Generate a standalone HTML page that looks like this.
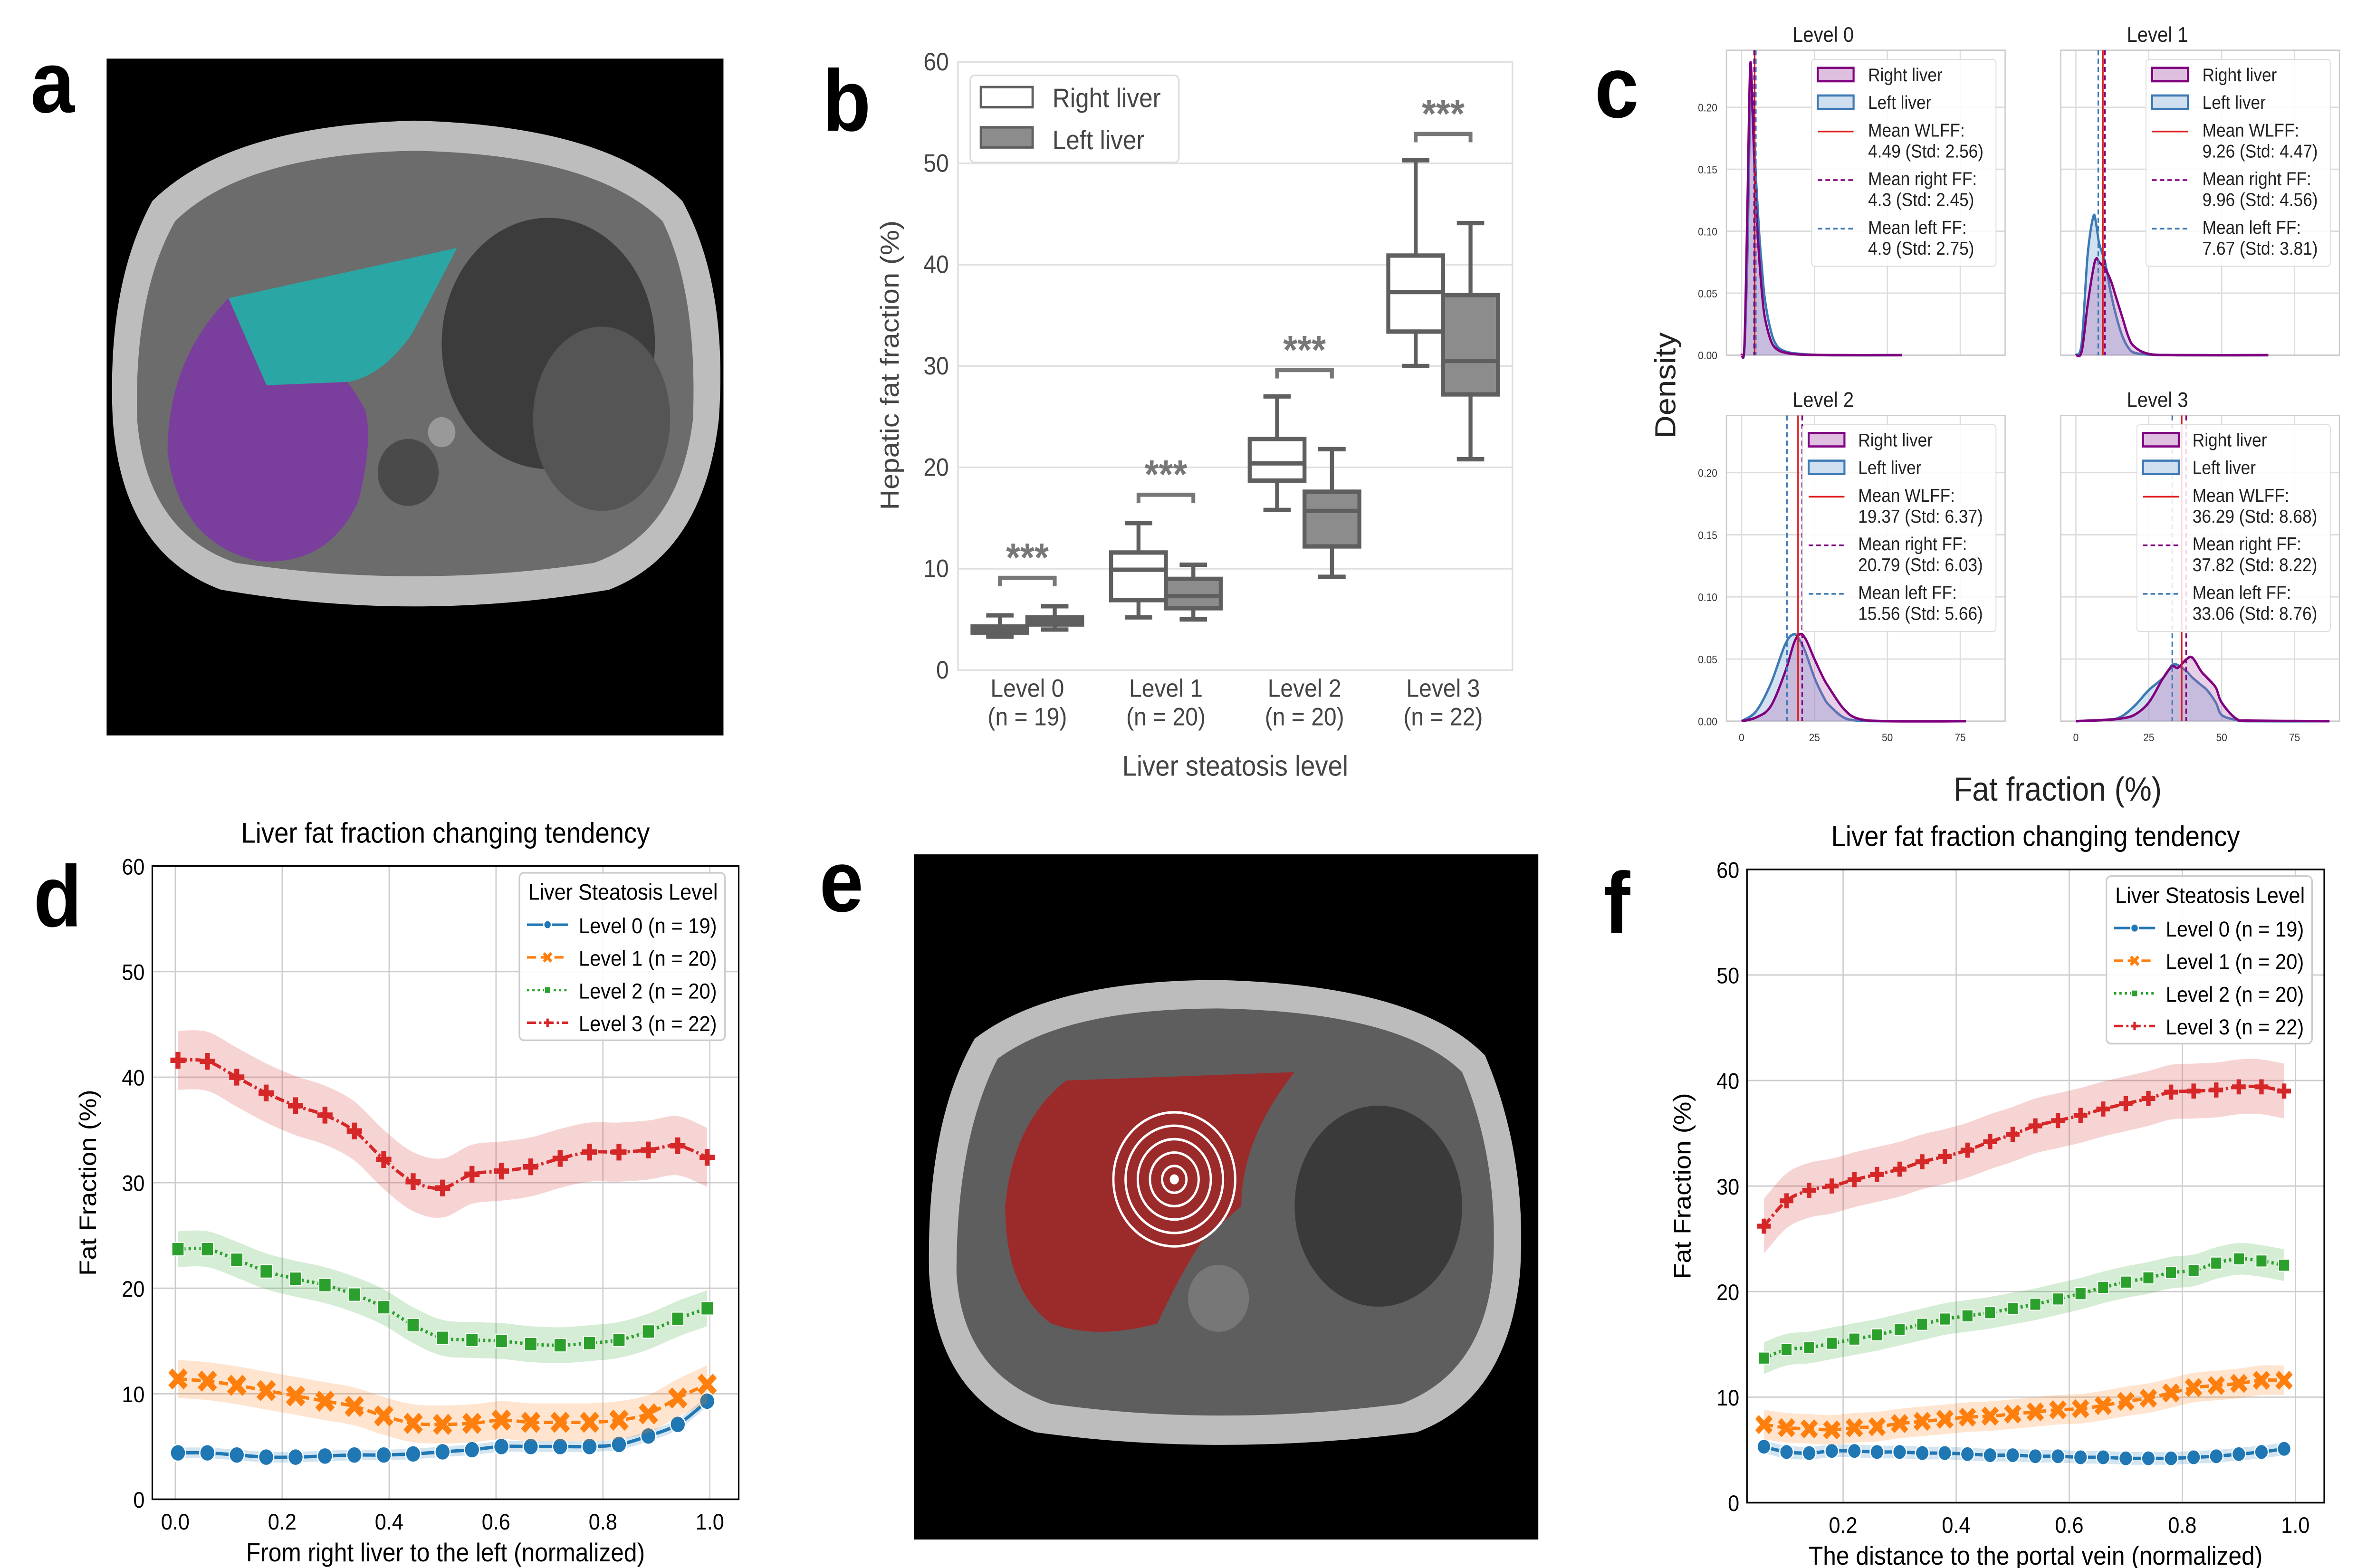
<!DOCTYPE html>
<html><head><meta charset="utf-8">
<style>
html,body{margin:0;padding:0;background:#fff;width:100%;height:100%;overflow:hidden;}
svg{display:block;width:100vw;height:100vh;font-family:"Liberation Sans",Arial,sans-serif;}
</style></head>
<body>
<svg id="fig" viewBox="0 0 1560 936" preserveAspectRatio="none" xmlns="http://www.w3.org/2000/svg">
<g font-weight="bold" font-size="52" fill="#000">
<text x="20" y="67">a</text>
<text x="540" y="78">b</text>
<text x="1047" y="70">c</text>
<text x="22" y="553">d</text>
<text x="538" y="544">e</text>
<text x="1053" y="557">f</text>
</g>
<g>
<rect x="70" y="35" width="405" height="404" fill="#000"/>
<path d="M100,120 Q150,75 272,72 Q400,75 448,120 Q478,170 472,250 Q462,330 400,352 Q272,372 145,352 Q80,330 74,250 Q70,170 100,120Z" fill="#bdbdbd"/>
<path d="M115,132 Q160,92 272,90 Q390,92 435,132 Q458,175 455,250 Q446,318 390,336 Q272,352 155,336 Q96,318 90,250 Q88,175 115,132Z" fill="#6c6c6c"/>
<ellipse cx="360" cy="205" rx="70" ry="75" fill="#3c3c3c"/>
<ellipse cx="395" cy="250" rx="45" ry="55" fill="#555"/>
<circle cx="268" cy="282" r="20" fill="#4a4a4a"/>
<circle cx="290" cy="258" r="9" fill="#999"/>
<path d="M150,178 L300,148 Q285,175 270,200 Q250,225 228,228 L175,230 Z" fill="#2aa6a4"/>
<path d="M150,178 Q110,215 110,270 Q118,325 170,335 Q215,338 235,300 Q245,265 240,245 Q232,232 228,228 L175,230 Z" fill="#7a3f9c"/>
</g>
<g>
<rect x="600" y="510" width="410" height="409" fill="#000"/>
<path d="M640,620 Q690,585 800,585 Q930,588 975,630 Q1003,690 998,760 Q990,835 930,855 Q800,870 680,855 Q615,835 610,760 Q608,670 640,620Z" fill="#bcbcbc"/>
<path d="M655,632 Q700,602 800,602 Q920,604 960,640 Q985,695 980,760 Q973,820 920,838 Q800,852 690,838 Q632,820 628,760 Q628,680 655,632Z" fill="#5e5e5e"/>
<ellipse cx="905" cy="720" rx="55" ry="60" fill="#3a3a3a"/>
<ellipse cx="800" cy="775" rx="20" ry="20" fill="#777"/>
<path d="M700,645 L850,640 Q815,680 815,720 L790,740 Q775,760 760,790 Q720,800 690,790 Q660,770 660,720 Q665,670 700,645Z" fill="#9b2b2b"/>
<g fill="none" stroke="#fff" stroke-width="1.5">
<circle cx="771" cy="704" r="8"/><circle cx="771" cy="704" r="16"/><circle cx="771" cy="704" r="24"/><circle cx="771" cy="704" r="32"/><circle cx="771" cy="704" r="40"/>
</g>
<circle cx="771" cy="704" r="3" fill="#fff"/>
</g>
<g id="pb"></g><g id="pc"></g><g id="pd"></g><g id="pf"></g>
</svg>
<script>
const NS="http://www.w3.org/2000/svg";
function el(p,t,a,txt){const e=document.createElementNS(NS,t);for(const k in a)e.setAttribute(k,a[k]);if(txt!==undefined)e.textContent=txt;p.appendChild(e);return e;}
function smooth(pts){if(pts.length<2)return "";let d="M"+pts[0][0]+","+pts[0][1];for(let i=0;i<pts.length-1;i++){const p0=pts[Math.max(i-1,0)],p1=pts[i],p2=pts[i+1],p3=pts[Math.min(i+2,pts.length-1)];const c1=[p1[0]+(p2[0]-p0[0])/6,p1[1]+(p2[1]-p0[1])/6],c2=[p2[0]-(p3[0]-p1[0])/6,p2[1]-(p3[1]-p1[1])/6];d+=" C"+c1[0]+","+c1[1]+" "+c2[0]+","+c2[1]+" "+p2[0]+","+p2[1];}return d;}

const bCategories=["Level  0","Level  1","Level  2","Level  3"];
const bCounts=["(n = 19)","(n = 20)","(n = 20)","(n = 22)"];
const bRight=[[3.3,3.7,4.1,4.3,5.4],[5.2,6.9,9.9,11.6,14.5],[15.8,18.7,20.4,22.8,27.0],[30.0,33.4,37.3,40.9,50.3]];
const bLeft=[[4.0,4.5,4.9,5.2,6.3],[5.0,6.1,7.3,9.0,10.4],[9.2,12.2,15.7,17.6,21.8],[20.8,27.2,30.5,37.0,44.1]];
const bBracket=[9.1,17.3,29.6,52.9];
const bTicks=[0,10,20,30,40,50,60];
(function(){
const g=document.getElementById("pb");
const L=629,R=993,T=37,B=400;
const ys=v=>B-(v/60)*(B-T);const xs=i=>L+(i+0.5)*(R-L)/4;
el(g,"rect",{x:L,y:T,width:R-L,height:B-T,fill:"#fff",stroke:"#ddd","stroke-width":1});
bTicks.forEach(t=>{el(g,"line",{x1:L,x2:R,y1:ys(t),y2:ys(t),stroke:"#e0e0e0","stroke-width":1});
 const tx=el(g,"text",{x:L-6,y:ys(t)+5,"text-anchor":"end","font-size":15,fill:"#444"},t);
 
 });
const bw=36;
function box(i,d,off,fill,name){const cx=xs(i)+off;const gg=el(g,"g",{});
 
 
 const st={stroke:"#5f5f5f","stroke-width":2.6,fill:"none"};
 el(gg,"line",Object.assign({x1:cx,x2:cx,y1:ys(d[0]),y2:ys(d[1])},st));
 el(gg,"line",Object.assign({x1:cx,x2:cx,y1:ys(d[3]),y2:ys(d[4])},st));
 el(gg,"line",Object.assign({x1:cx-bw/4,x2:cx+bw/4,y1:ys(d[0]),y2:ys(d[0])},st));
 el(gg,"line",Object.assign({x1:cx-bw/4,x2:cx+bw/4,y1:ys(d[4]),y2:ys(d[4])},st));
 el(gg,"rect",{x:cx-bw/2,y:ys(d[3]),width:bw,height:ys(d[1])-ys(d[3]),fill:fill,stroke:"#5f5f5f","stroke-width":2.6});
 el(gg,"line",Object.assign({x1:cx-bw/2,x2:cx+bw/2,y1:ys(d[2]),y2:ys(d[2])},st));}
for(let i=0;i<4;i++){box(i,bRight[i],-bw/2,"#fff","box-right-level-"+i);box(i,bLeft[i],bw/2,"#8c8c8c","box-left-level-"+i);
 const y=ys(bBracket[i]);const br=el(g,"path",{d:`M${xs(i)-18},${y+5} V${y} H${xs(i)+18} V${y+5}`,fill:"none",stroke:"#777","stroke-width":2.5});
 
 
 const s=el(g,"text",{x:xs(i),y:y-4,"text-anchor":"middle","font-size":24,"font-weight":"bold",fill:"#777"},"***");
 
 
 const c=el(g,"text",{x:xs(i),y:416,"text-anchor":"middle","font-size":15,fill:"#444"},bCategories[i]);
 
 
 const n=el(g,"text",{x:xs(i),y:433,"text-anchor":"middle","font-size":15,fill:"#444"},bCounts[i]);
 
 }
const xl=el(g,"text",{x:811,y:463,"text-anchor":"middle","font-size":17,fill:"#444"},"Liver steatosis level");

const yl=el(g,"text",{x:590,y:218,"text-anchor":"middle","font-size":17,fill:"#444",transform:"rotate(-90 590 218)"},"Hepatic fat fraction (%)");

const lg=el(g,"g",{});
el(lg,"rect",{x:637,y:45,width:137,height:52,rx:3,fill:"#fff",stroke:"#ddd"});
el(lg,"rect",{x:644,y:52,width:34,height:12,fill:"#fff",stroke:"#5f5f5f","stroke-width":1.5});
el(lg,"rect",{x:644,y:76,width:34,height:12,fill:"#8c8c8c",stroke:"#5f5f5f","stroke-width":1.5});
el(lg,"text",{x:691,y:64,"font-size":16,fill:"#444"},"Right liver");
el(lg,"text",{x:691,y:89,"font-size":16,fill:"#444"},"Left liver");
})();

const cTitles=["Level  0","Level  1","Level  2","Level  3"];
const cX0=[0,1,2,3,4,5,6,7,8,10,12,15,20,30,55];
const cRight0=[0,0.01,0.12,0.235,0.18,0.12,0.08,0.05,0.03,0.012,0.005,0.002,0.0005,0,0];
const cLeft0=[0,0.005,0.08,0.20,0.19,0.14,0.10,0.07,0.045,0.02,0.008,0.003,0.001,0,0];
const cX1=[0,2,4,6,7,8,10,12,14,16,18,20,25,35,66];
const cRight1=[0,0.003,0.04,0.07,0.078,0.075,0.07,0.06,0.045,0.03,0.015,0.007,0.001,0,0];
const cLeft1=[0,0.01,0.08,0.112,0.105,0.09,0.075,0.05,0.03,0.015,0.006,0.002,0.0005,0,0];
const cX2=[0,5,10,15,18,20,22,25,28,30,35,40,50,77];
const cRight2=[0,0.003,0.012,0.04,0.063,0.07,0.066,0.05,0.035,0.027,0.01,0.002,0,0];
const cLeft2=[0,0.008,0.03,0.062,0.07,0.065,0.055,0.035,0.02,0.013,0.003,0.0005,0,0];
const cX3=[0,10,15,20,25,30,33,35,38,40,43,45,48,50,55,60,87];
const cRight3=[0,0.001,0.002,0.005,0.015,0.035,0.044,0.043,0.05,0.051,0.04,0.035,0.027,0.015,0.002,0.0005,0];
const cLeft3=[0,0.001,0.003,0.012,0.025,0.035,0.045,0.045,0.04,0.035,0.029,0.025,0.015,0.005,0.001,0,0];
const cMeanW=[4.49,9.26,19.37,36.29];const cStdW=["2.56","4.47","6.37","8.68"];
const cMeanR=[4.3,9.96,20.79,37.82];const cStdR=["2.45","4.56","6.03","8.22"];
const cMeanL=[4.9,7.67,15.56,33.06];const cStdL=["2.75","3.81","5.66","8.76"];
const cYTicks=[0,0.05,0.10,0.15,0.20];const cXTicks=[0,25,50,75];
(function(){
const g=document.getElementById("pc");
const xsArr=[cX0,cX1,cX2,cX3],rArr=[cRight0,cRight1,cRight2,cRight3],lArr=[cLeft0,cLeft1,cLeft2,cLeft3];
const pos=[[1133.5,30,212],[1353,30,212],[1133.5,248,430.5],[1353,248,430.5]];
const W=183,XMIN=-5.2,XMAX=90.4,YMAX=0.246;
for(let k=0;k<4;k++){
 const [L,T,B]=pos[k];const sg=el(g,"g",{});
 
 
 const xs=v=>L+(v-XMIN)/(XMAX-XMIN)*W;const ys=v=>B-v/YMAX*(B-T);
 el(sg,"rect",{x:L,y:T,width:W,height:B-T,fill:"#fff"});
 cYTicks.forEach(t=>{el(sg,"line",{x1:L,x2:L+W,y1:ys(t),y2:ys(t),stroke:"#ddd","stroke-width":0.8});
   if(k%2==0){const tt=el(sg,"text",{x:L-6,y:ys(t)+2.5,"text-anchor":"end","font-size":6.5,fill:"#333"},t.toFixed(2));}});
 cXTicks.forEach(t=>{el(sg,"line",{x1:xs(t),x2:xs(t),y1:T,y2:B,stroke:"#ddd","stroke-width":0.8});
   if(k>=2){const tt=el(sg,"text",{x:xs(t),y:B+12,"text-anchor":"middle","font-size":6.5,fill:"#333"},t);}});
 el(sg,"rect",{x:L,y:T,width:W,height:B-T,fill:"none",stroke:"#ccc","stroke-width":0.8});
 const ttl=el(sg,"text",{x:L+W/2-28,y:T-5,"text-anchor":"middle","font-size":12.5,fill:"#222"},cTitles[k]);
 
 function dens(xa,ya,fill,stroke,name){const pts=xa.map((x,i)=>[xs(x),ys(ya[i])]);const d=smooth(pts);
  const a=el(sg,"path",{d:d+` L${pts[pts.length-1][0]},${B} L${pts[0][0]},${B} Z`,fill:fill,"fill-opacity":0.3,stroke:"none"});
  
  const l=el(sg,"path",{d:d,fill:"none",stroke:stroke,"stroke-width":1.5});
  }
 dens(xsArr[k],lArr[k],"#6a9fd0","#3d7ab5","left-liver-density");
 dens(xsArr[k],rArr[k],"#b064b0","#800080","right-liver-density");
 const mL=el(sg,"line",{x1:xs(cMeanL[k]),x2:xs(cMeanL[k]),y1:T,y2:B,stroke:"#3d7ab5","stroke-width":1,"stroke-dasharray":"3,2"});
 
 const mW=el(sg,"line",{x1:xs(cMeanW[k]),x2:xs(cMeanW[k]),y1:T,y2:B,stroke:"#e01818","stroke-width":1});
 
 const mR=el(sg,"line",{x1:xs(cMeanR[k]),x2:xs(cMeanR[k]),y1:T,y2:B,stroke:"#800080","stroke-width":1,"stroke-dasharray":"3,2"});
 
 const lx=k<2?L+56:L+50, tx=k<2?L+93:L+86.5, ly=T+5.5;
 const lg=el(sg,"g",{});
 el(lg,"rect",{x:lx,y:ly,width:L+W-6-lx,height:123.5,rx:2,fill:"#fff","fill-opacity":0.85,stroke:"#ddd","stroke-width":0.6});
 const px=lx+4;
 el(lg,"rect",{x:px,y:ly+5,width:23.5,height:8,fill:"#dfbfdf",stroke:"#800080","stroke-width":1.3});
 el(lg,"rect",{x:px,y:ly+21.5,width:23.5,height:8,fill:"#cfdff0",stroke:"#3d7ab5","stroke-width":1.3});
 el(lg,"line",{x1:px,x2:px+23.5,y1:ly+43,y2:ly+43,stroke:"#e01818","stroke-width":1});
 el(lg,"line",{x1:px,x2:px+23.5,y1:ly+72,y2:ly+72,stroke:"#800080","stroke-width":1,"stroke-dasharray":"3,2"});
 el(lg,"line",{x1:px,x2:px+23.5,y1:ly+101,y2:ly+101,stroke:"#3d7ab5","stroke-width":1,"stroke-dasharray":"3,2"});
 const lines=[["Right liver",13],["Left liver",29.5],["Mean WLFF:",46],[cMeanW[k]+" (Std: "+cStdW[k]+")",58.5],["Mean right FF:",75],[cMeanR[k]+" (Std: "+cStdR[k]+")",87.5],["Mean left FF:",104],[cMeanL[k]+" (Std: "+cStdL[k]+")",116.5]];
 lines.forEach(([t,dy])=>el(lg,"text",{x:tx,y:ly+dy,"font-size":11,fill:"#222"},t));
}
const dl=el(g,"text",{x:1100,y:230,"text-anchor":"middle","font-size":19,fill:"#222",transform:"rotate(-90 1100 230)"},"Density");

const fl=el(g,"text",{x:1351,y:478,"text-anchor":"middle","font-size":20,fill:"#222"},"Fat fraction (%)");

})();

const dX=[0.005,0.06,0.115,0.17,0.225,0.28,0.335,0.39,0.445,0.5,0.555,0.61,0.665,0.72,0.775,0.83,0.885,0.94,0.995];
const dL0=[4.4,4.4,4.2,4.0,4.0,4.1,4.2,4.2,4.3,4.5,4.7,5.0,5.0,5.0,5.0,5.2,6.0,7.1,9.3];
const dL1=[11.4,11.2,10.8,10.3,9.8,9.3,8.8,7.9,7.2,7.1,7.2,7.5,7.3,7.3,7.3,7.5,8.1,9.6,10.9];
const dL2=[23.7,23.7,22.7,21.6,20.9,20.3,19.4,18.2,16.5,15.3,15.1,15.0,14.7,14.6,14.8,15.1,15.9,17.1,18.1];
const dL3=[41.6,41.5,40.0,38.5,37.3,36.4,34.9,32.2,30.1,29.5,30.8,31.1,31.5,32.3,32.9,32.9,33.1,33.5,32.4];
const dBand=[0.5,1.8,1.7,2.8];
const fX=[0.06,0.10,0.14,0.18,0.22,0.26,0.30,0.34,0.38,0.42,0.46,0.50,0.54,0.58,0.62,0.66,0.70,0.74,0.78,0.82,0.86,0.90,0.94,0.98];
const fL0=[5.3,4.8,4.7,4.9,4.9,4.8,4.8,4.7,4.7,4.6,4.5,4.5,4.4,4.4,4.3,4.3,4.2,4.2,4.2,4.3,4.4,4.6,4.8,5.1];
const fL1=[7.4,7.1,7.0,6.9,7.1,7.2,7.5,7.7,7.9,8.1,8.2,8.4,8.6,8.8,8.9,9.2,9.6,9.9,10.4,10.9,11.1,11.3,11.6,11.6];
const fL2=[13.7,14.5,14.7,15.1,15.5,15.9,16.4,16.9,17.4,17.7,18.0,18.4,18.8,19.3,19.8,20.4,20.9,21.3,21.8,22.0,22.7,23.1,22.9,22.5];
const fL3=[26.2,28.6,29.6,30.0,30.6,31.1,31.6,32.3,32.8,33.4,34.2,34.9,35.7,36.2,36.7,37.3,37.8,38.3,38.9,39.0,39.1,39.4,39.4,39.0];
const fBand=[0.6,1.4,1.5,2.6];
const lineYTicks=[0,10,20,30,40,50,60];
const dXTicks=[0,0.2,0.4,0.6,0.8,1.0];const fXTicks=[0.2,0.4,0.6,0.8,1.0];
const legendLabels=["Level 0 (n = 19)","Level 1 (n = 20)","Level 2 (n = 20)","Level 3 (n = 22)"];
const COLORS=["#1f77b4","#ff7f0e","#2ca02c","#d62728"];
const DASH=["none","6,3","1.5,2","6,2,1.5,2"];
function marker(p,k,x,y,s){
 if(k==0)return el(p,"circle",{cx:x,cy:y,r:s,fill:COLORS[0],stroke:"#fff","stroke-width":0.8});
 if(k==1)return el(p,"path",{d:`M${x-s},${y-s}L${x+s},${y+s}M${x-s},${y+s}L${x+s},${y-s}`,stroke:COLORS[1],"stroke-width":s*0.75,fill:"none"});
 if(k==2)return el(p,"rect",{x:x-s*0.8,y:y-s*0.8,width:s*1.6,height:s*1.6,fill:COLORS[2],stroke:"#fff","stroke-width":0.6});
 return el(p,"path",{d:`M${x-s},${y}L${x+s},${y}M${x},${y-s}L${x},${y+s}`,stroke:COLORS[3],"stroke-width":s*0.65,fill:"none"});}
function lineChart(gid,cfg){
 const g=document.getElementById(gid);const {L,R,T,B,xmin,xmax,X,series,band,xt,title,xlabel,ms,leg}=cfg;
 const xs=v=>L+(v-xmin)/(xmax-xmin)*(R-L);const ys=v=>B-v/60*(B-T);
 lineYTicks.forEach(t=>{el(g,"line",{x1:L,x2:R,y1:ys(t),y2:ys(t),stroke:"#ccc","stroke-width":0.8});
  const tt=el(g,"text",{x:L-5,y:ys(t)+5,"text-anchor":"end","font-size":13.5,fill:"#000"},t);});
 xt.forEach(t=>{el(g,"line",{x1:xs(t),x2:xs(t),y1:T,y2:B,stroke:"#ccc","stroke-width":0.8});
  const tt=el(g,"text",{x:xs(t),y:B+18,"text-anchor":"middle","font-size":13.5,fill:"#000"},t.toFixed(1));});
 series.forEach((s,k)=>{
  const up=X.map((x,i)=>[xs(x),ys(s[i]+band[k])]),lo=X.map((x,i)=>[xs(x),ys(s[i]-band[k])]).reverse();
  const b=el(g,"path",{d:smooth(up)+" L"+lo[0][0]+","+lo[0][1]+smooth(lo).replace(/^M[^C]*/," ")+"Z",fill:COLORS[k],"fill-opacity":0.2,stroke:"none"});
  
  const ln=el(g,"path",{d:smooth(X.map((x,i)=>[xs(x),ys(s[i])])),fill:"none",stroke:COLORS[k],"stroke-width":2,"stroke-dasharray":DASH[k]});
  
  X.forEach((x,i)=>{const m=marker(g,k,xs(x),ys(s[i]),ms);});
 });
 el(g,"rect",{x:L,y:T,width:R-L,height:B-T,fill:"none",stroke:"#000","stroke-width":1});
 const tt=el(g,"text",{x:(L+R)/2,y:T-14,"text-anchor":"middle","font-size":17,fill:"#000"},title);
 const xl=el(g,"text",{x:(L+R)/2,y:B+37,"text-anchor":"middle","font-size":15.5,fill:"#000"},xlabel);
 const yx=L-37,yy=(T+B)/2;const yl=el(g,"text",{x:yx,y:yy,"text-anchor":"middle","font-size":15.5,fill:"#000",transform:`rotate(-90 ${yx} ${yy})`},"Fat Fraction (%)");
 const lg=el(g,"g",{});
 el(lg,"rect",{x:leg[0],y:leg[1],width:135,height:100,rx:3,fill:"#fff","fill-opacity":0.9,stroke:"#ccc"});
 el(lg,"text",{x:leg[0]+68,y:leg[1]+16,"text-anchor":"middle","font-size":13.5,fill:"#000"},"Liver Steatosis Level");
 legendLabels.forEach((t,k)=>{const y=leg[1]+35+k*19.5;el(lg,"line",{x1:leg[0]+5,x2:leg[0]+32,y1:y-4,y2:y-4,stroke:COLORS[k],"stroke-width":1.5,"stroke-dasharray":DASH[k]});marker(lg,k,leg[0]+18.5,y-4,2.5);el(lg,"text",{x:leg[0]+39,y:y+1,"font-size":13,fill:"#000"},t);});
}
lineChart("pd",{L:100,R:485,T:517,B:895,xmin:-0.043,xmax:1.054,X:dX,series:[dL0,dL1,dL2,dL3],band:dBand,xt:dXTicks,title:"Liver fat fraction changing tendency",xlabel:"From right liver to the left (normalized)",ms:5,leg:[341,521]});
lineChart("pf",{L:1147,R:1526,T:519,B:897,xmin:0.03,xmax:1.051,X:fX,series:[fL0,fL1,fL2,fL3],band:fBand,xt:fXTicks,title:"Liver fat fraction changing tendency",xlabel:"The distance to the portal vein (normalized)",ms:4.5,leg:[1383,523]});
</script>
</body></html>
